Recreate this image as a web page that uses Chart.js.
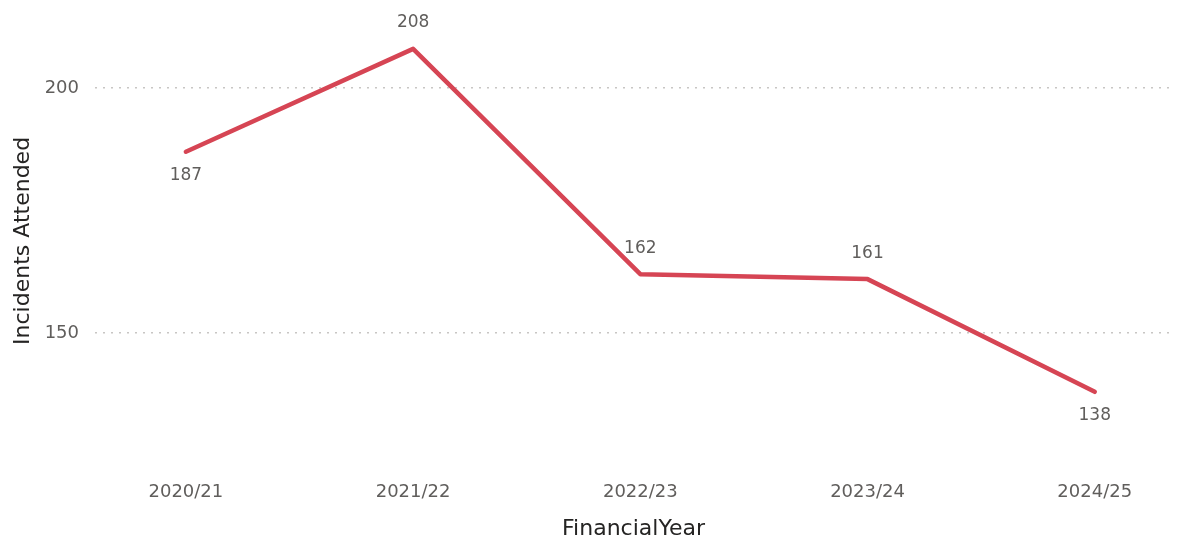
<!DOCTYPE html>
<html lang="en">
<head>
  <meta charset="UTF-8" />
  <title>Incidents Attended</title>
  <script src="https://cdn.jsdelivr.net/npm/chart.js"></script>
  <style>
    body {
      margin: 0;
      background: #fff;
    }
    #wrap {
      width: 1177px;
      height: 542px;
      position: relative;
    }
  </style>
</head>
<body>
  <div id="wrap">
    <canvas id="chart" width="1177" height="542"></canvas>
  </div>

  <script>
    const years = ['2020/21', '2021/22', '2022/23', '2023/24', '2024/25'];
    const incidents = [187, 208, 162, 161, 138];
    const yTicks = [150, 200];

    const lineColor = '#D64554';
    const font = "'DejaVu Sans', sans-serif";

    // labels go under a point when it sits below its neighbours
    function labelBelow(i) {
      const v = incidents[i];
      const prev = i > 0 ? incidents[i - 1] : null;
      const next = i < incidents.length - 1 ? incidents[i + 1] : null;
      return (prev === null || v < prev) && (next === null || v < next);
    }

    const dataLabels = {
      id: 'dataLabels',
      afterDatasetsDraw(chart) {
        const c = chart.ctx;
        const meta = chart.getDatasetMeta(0);
        c.save();
        c.font = '17px ' + font;
        c.fillStyle = '#605E5C';
        c.textAlign = 'center';
        c.textBaseline = 'middle';
        meta.data.forEach((pt, i) => {
          const dy = labelBelow(i) ? 24 : -26;
          c.fillText(String(incidents[i]), pt.x, pt.y + dy);
        });
        c.restore();
      }
    };

    new Chart(document.getElementById('chart'), {
      type: 'line',
      data: {
        datasets: [{
          data: incidents.map((v, i) => ({ x: i, y: v })),
          borderColor: lineColor,
          borderWidth: 4.5,
          pointRadius: 0,
          tension: 0,
          borderCapStyle: 'round',
          borderJoinStyle: 'round'
        }]
      },
      options: {
        responsive: false,
        animation: false,
        layout: { padding: { left: 4, right: 5, top: 0, bottom: 0 } },
        plugins: {
          legend: { display: false },
          tooltip: { enabled: false }
        },
        scales: {
          x: {
            type: 'linear',
            min: -0.40,
            max: 4.34,
            afterBuildTicks: axis => {
              axis.ticks = years.map((_, i) => ({ value: i }));
            },
            afterFit: axis => { axis.height = 87; },
            ticks: {
              callback: v => years[v],
              color: '#605E5C',
              font: { family: font, size: 18 },
              padding: 19,
              maxRotation: 0
            },
            grid: { display: false },
            border: { display: false },
            title: {
              display: true,
              text: 'FinancialYear',
              color: '#252423',
              font: { family: font, size: 22 },
              padding: { top: 21, bottom: 0 }
            }
          },
          y: {
            min: 125.1,
            max: 212.5,
            afterBuildTicks: axis => {
              axis.ticks = yTicks.map(v => ({ value: v }));
            },
            afterFit: axis => { axis.width = 91; },
            ticks: {
              color: '#605E5C',
              font: { family: font, size: 18 },
              padding: 16
            },
            grid: {
              color: '#C8C6C4',
              lineWidth: 1.5,
              drawTicks: false
            },
            border: { display: false, dash: [2, 6] },
            title: {
              display: true,
              text: 'Incidents Attended',
              color: '#252423',
              font: { family: font, size: 22 },
              padding: { top: 6, bottom: 4 }
            }
          }
        }
      },
      plugins: [dataLabels]
    });
  </script>
</body>
</html>
